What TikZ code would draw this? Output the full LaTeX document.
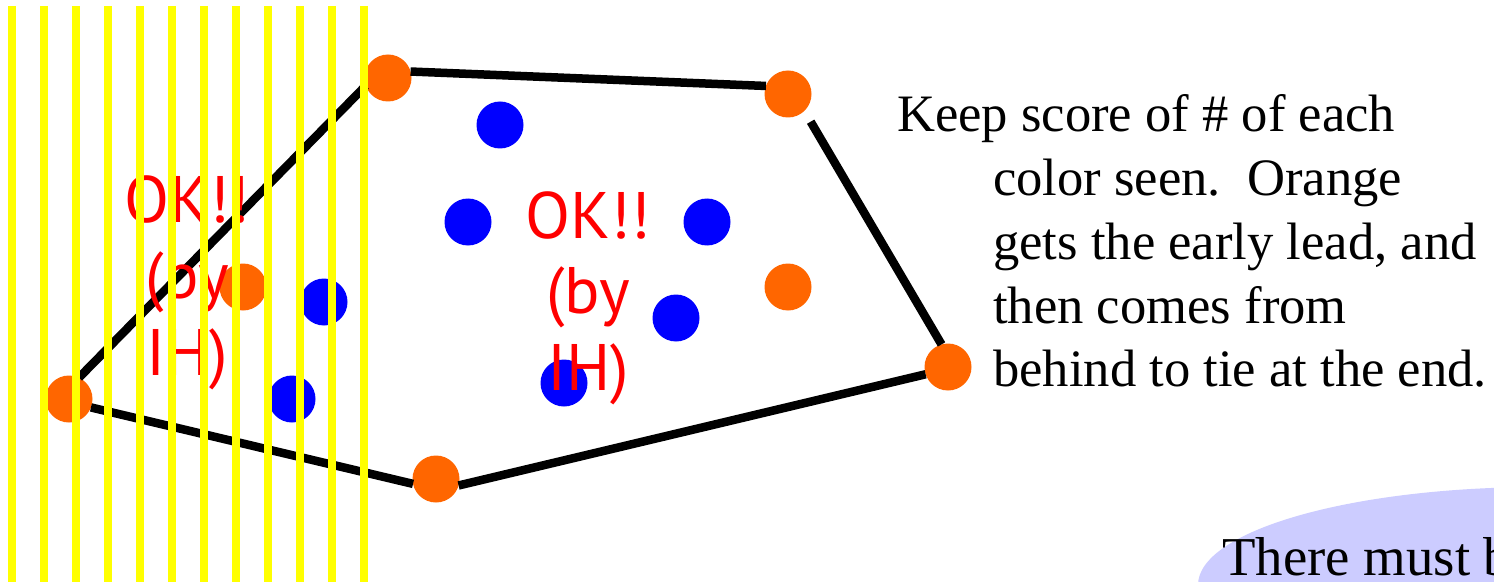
\documentclass[tikz,border=0pt]{standalone}
\usepackage{fontspec}
\setmainfont{Liberation Serif}
\newfontfamily\handfont{PT Sans}
\usetikzlibrary{shapes.geometric}
\definecolor{dotorange}{RGB}{255,102,0}
\definecolor{dotblue}{RGB}{0,0,255}
\definecolor{okred}{RGB}{255,0,0}
\definecolor{lav}{RGB}{204,204,255}
\definecolor{stripe}{RGB}{255,255,0}
\begin{document}
\begin{tikzpicture}[x=1bp,y=-1bp,
  spot/.style={circle,inner sep=0pt,outer sep=0pt,minimum size=47bp},
  ospot/.style={spot,fill=dotorange},
  bspot/.style={spot,fill=dotblue},
  hull/.style={line width=8.5bp,black},
  note/.style={anchor=base west,inner sep=0pt,font=\fontsize{52.8}{63}\selectfont},
  bubbletext/.style={anchor=base west,inner sep=0pt,font=\fontsize{55}{66}\selectfont},
  ok/.style={anchor=base,inner sep=0pt,text=okred,font=\handfont\fontsize{66}{76}\selectfont},
  stripeline/.style={line width=8bp,stripe}]
\useasboundingbox (0,0) rectangle (1494,582);
\clip (0,0) rectangle (1494,582);
\fill[white] (0,0) rectangle (1494,582);
% bubble
\node[ellipse,fill=lav,inner sep=0pt,minimum width=684bp,minimum height=196bp] (bubble) at (1540,585) {};
\node[bubbletext] (bt) at (1222,575) {There must be};
% note text
\node[note] (t1) at (897,132) {Keep score of \# of each};
\node[note] (t2) at (993,195.5) {color seen.\ \ Orange};
\node[note] (t3) at (993,259) {gets the early lead, and};
\node[note] (t4) at (993,323) {then comes from};
\node[note] (t5) at (993,386.5) {behind to tie at the end.};
% hull points
\node[ospot] (T) at (388,78) {};
\node[ospot] (R1) at (788,94) {};
\node[ospot] (R2) at (948,367) {};
\node[ospot] (B) at (436,479) {};
\node[ospot] (L) at (69,399) {};
% inner points
\node[ospot] (o1) at (243,287) {};
\node[ospot] (o2) at (788,287) {};
\node[bspot] (b1) at (500,125) {};
\node[bspot] (b2) at (468,222) {};
\node[bspot] (b3) at (707,222) {};
\node[bspot] (b4) at (324,302) {};
\node[bspot] (b5) at (676,318) {};
\node[bspot] (b6) at (292,399) {};
\node[bspot] (b7) at (564,383) {};
% hull edges
\draw[hull] (L.65) -- (T.199);
\draw[hull] (T.16) -- (R1.160);
\draw[hull,shorten <=12.5bp] (R1.-46) -- (R2.106);
\draw[hull] (R2.198) -- (B.-16);
\draw[hull] (B.192) -- (L.-21);
% red labels
\node[ok] (c1) at (588,238) {OK!!};
\node[ok] (c2) at (588,313) {(by};
\node[ok] (c3) at (588,390) {IH)};
\node[ok] (l1) at (187,223) {OK!!};
\node[ok] (l2) at (187,298) {(by};
\node[ok] (l3) at (187,375) {IH)};
% yellow stripes
\foreach \i in {0,...,11}
  \draw[stripeline] (12+32*\i,6) -- (12+32*\i,582);
\end{tikzpicture}
\end{document}
